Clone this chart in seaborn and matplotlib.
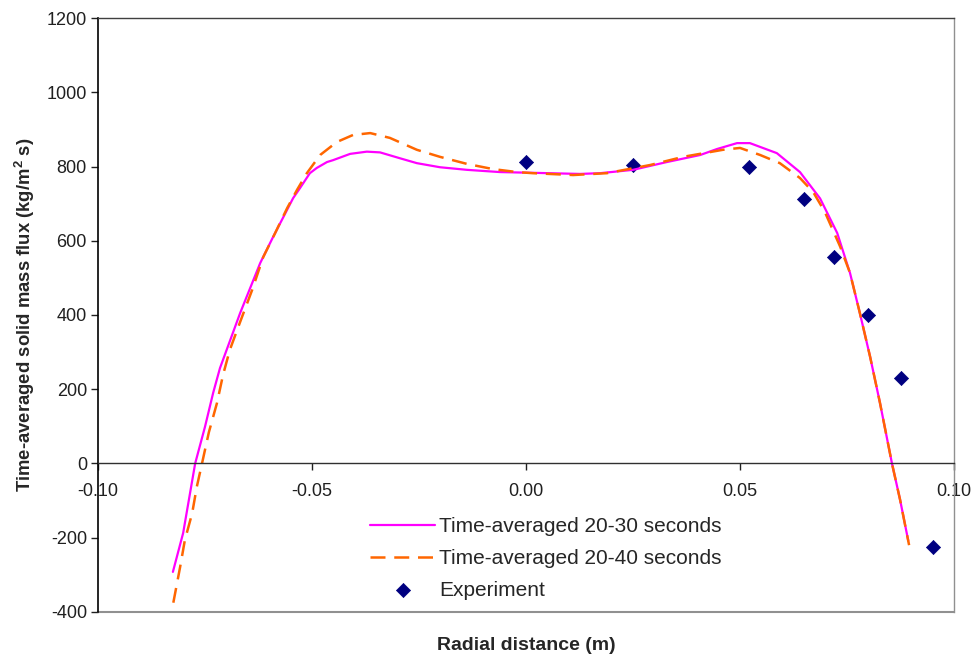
import matplotlib
matplotlib.use("Agg")
import matplotlib.pyplot as plt
import seaborn as sns
import pandas as pd

# Simulated radial profiles of time-averaged solid mass flux
x_20_30 = [-0.0825, -0.0801, -0.0773, -0.0750, -0.0731, -0.0715, -0.0668, -0.0621,
           -0.0591, -0.0544, -0.0528, -0.0505, -0.0489, -0.0465, -0.0451, -0.0411,
           -0.0372, -0.0341, -0.0294, -0.0255, -0.0201, -0.0138, -0.0061, 0.0016,
           0.0126, 0.0173, 0.0250, 0.0329, 0.0407, 0.0446, 0.0493, 0.0523,
           0.0586, 0.0640, 0.0687, 0.0727, 0.0757, 0.0780, 0.0804, 0.0827,
           0.0855, 0.0874, 0.0893]
y_20_30 = [-292, -187, 0, 99, 190, 257, 405, 540,
           610, 715, 742, 782, 796, 812, 817, 834,
           840, 838, 822, 809, 798, 791, 785, 783,
           780, 782, 791, 812, 831, 847, 863, 863,
           836, 785, 714, 621, 513, 405, 287, 163,
           0, -98, -208]

x_20_40 = [-0.0824, -0.0808, -0.0797, -0.0780, -0.0769, -0.0757, -0.0741, -0.0722,
           -0.0708, -0.0692, -0.0668, -0.0640, -0.0614, -0.0586, -0.0558, -0.0535,
           -0.0512, -0.0481, -0.0442, -0.0404, -0.0364, -0.0318, -0.0255, -0.0201,
           -0.0138, -0.0077, -0.0021, 0.0016, 0.0110, 0.0189, 0.0290, 0.0367,
           0.0460, 0.0500, 0.0547, 0.0593, 0.0640, 0.0671, 0.0698, 0.0734,
           0.0757, 0.0780, 0.0804, 0.0827, 0.0855, 0.0874, 0.0895]
y_20_40 = [-375, -278, -206, -134, -62, 0, 84, 163,
           238, 306, 381, 467, 556, 621, 688, 737,
           782, 831, 866, 885, 890, 877, 845, 826,
           807, 793, 785, 782, 777, 782, 804, 826,
           845, 850, 831, 809, 769, 731, 678, 584,
           513, 405, 287, 163, 0, -98, -220]

# Measured values
x_exp = [0.000, 0.025, 0.052, 0.065, 0.072, 0.080, 0.0875, 0.095]
y_exp = [812, 803, 800, 712, 557, 400, 230, -225]

x_ticks = [-0.10, -0.05, 0.00, 0.05, 0.10]
y_ticks = [-400, -200, 0, 200, 400, 600, 800, 1000, 1200]

label_a = "Time-averaged 20-30 seconds"
label_b = "Time-averaged 20-40 seconds"
label_c = "Experiment"

sns.set_theme(style="white")
plt.rcParams["font.family"] = ["Liberation Sans", "DejaVu Sans"]
plt.rcParams["axes.unicode_minus"] = False

fig = plt.figure(figsize=(9.78, 6.57), dpi=100)
ax = fig.add_axes([0.1002, 0.0685, 0.8753, 0.9041])

df_a = pd.DataFrame({"x": x_20_30, "y": y_20_30})
df_b = pd.DataFrame({"x": x_20_40, "y": y_20_40})
df_c = pd.DataFrame({"x": x_exp, "y": y_exp})

sns.lineplot(data=df_a, x="x", y="y", ax=ax, color="#FF00FF", lw=1.6,
             sort=False, label=label_a)
sns.lineplot(data=df_b, x="x", y="y", ax=ax, color="#FF6600", lw=1.8,
             sort=False, label=label_b)
ax.lines[-1].set_dashes((6, 3.5))
sns.scatterplot(data=df_c, x="x", y="y", ax=ax, marker="D", s=52,
                color="#000080", edgecolor="#000080", linewidth=0.5, label=label_c)

ax.set_xlim(x_ticks[0], x_ticks[-1])
ax.set_ylim(y_ticks[0], y_ticks[-1])
ax.set_xticks(x_ticks)
ax.set_xticklabels([f"{v:.2f}" for v in x_ticks])
ax.set_yticks(y_ticks)
ax.set_yticklabels([str(v) for v in y_ticks])

# Frame: black left axis, x axis running through zero, grey box elsewhere
ax.spines["left"].set_color("black")
ax.spines["left"].set_linewidth(1.2)
ax.spines["bottom"].set_position(("data", 0))
ax.spines["bottom"].set_color("#303030")
ax.spines["bottom"].set_linewidth(1.0)
ax.spines["top"].set_color("#404040")
ax.spines["top"].set_linewidth(1.0)
ax.spines["right"].set_color("#909090")
ax.spines["right"].set_linewidth(1.0)
ax.axhline(ax.get_ylim()[0], color="#909090", lw=1.5, clip_on=False)

ax.tick_params(axis="both", which="major", labelsize=13, colors="#202020",
               direction="out", length=5, width=1)
ax.tick_params(axis="x", bottom=True, pad=9)
ax.tick_params(axis="y", left=True, pad=3)

ax.set_xlabel("Radial distance (m)", fontsize=14, fontweight="bold")
ax.xaxis.set_label_coords(0.5, -0.042)
ax.set_ylabel("Time-averaged solid mass flux (kg/m$^\\mathregular{2}$ s)",
              fontsize=13.3, fontweight="bold", labelpad=7)

leg = ax.legend(loc="upper left", bbox_to_anchor=(0.318, 0.160), frameon=False,
                fontsize=15, handlelength=3.1, handletextpad=0.2,
                labelspacing=0.62, borderpad=0, borderaxespad=0)

fig.savefig("out.png", dpi=100)
